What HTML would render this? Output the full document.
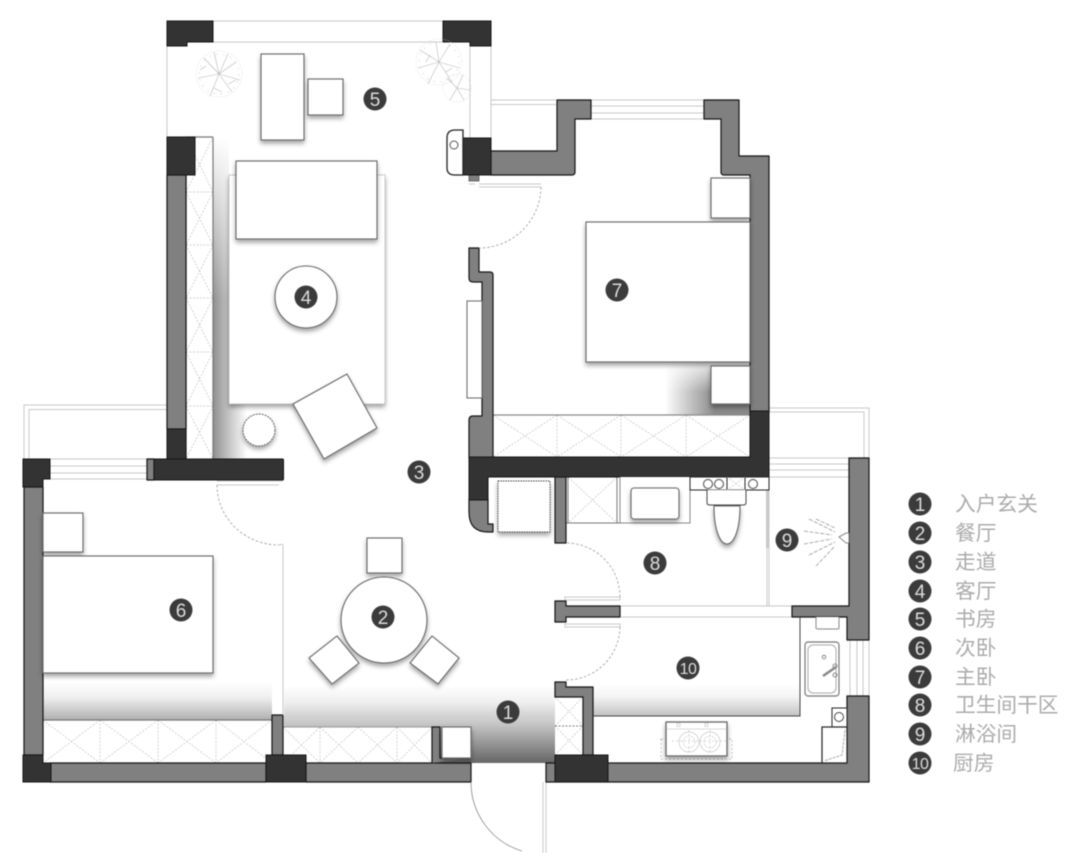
<!DOCTYPE html>
<html><head><meta charset="utf-8"><style>
html,body{margin:0;padding:0;background:#fff}
svg{display:block;filter:blur(.45px)}
.w{fill:#808080;stroke:#151515;stroke-width:1.2;stroke-linejoin:round}
.d{fill:#333;stroke:#151515;stroke-width:1}
.l{fill:none;stroke:#c8c8c8;stroke-width:1}
.h{fill:none;stroke:#c2c2c2;stroke-width:.7;stroke-dasharray:2 1.5}
.f{fill:#fff;stroke:#666;stroke-width:1.1;filter:url(#s)}
.b{fill:#fff;stroke:#555;stroke-width:1.1}
.a{fill:none;stroke:#999;stroke-width:.8;stroke-dasharray:2.5 2}
.t{fill:none;stroke:#d2d2d2;stroke-width:.6}
.c{fill:#3b3b3b}
.n{font:19px "Liberation Sans",sans-serif;fill:#dcdcdc;text-anchor:middle}
.k{font:20.700px "Liberation Sans","Noto Sans CJK SC",sans-serif;fill:#ababab}
</style></head><body>
<svg width="1080" height="853" viewBox="0 0 1080 853" xmlns="http://www.w3.org/2000/svg">
<defs>
<filter id="s" x="-20%" y="-20%" width="140%" height="145%"><feDropShadow dx="0" dy="3" stdDeviation="2.5" flood-color="#000" flood-opacity=".36"/></filter>
<linearGradient id="g1" gradientUnits="userSpaceOnUse" x1="0" y1="686" x2="0" y2="762"><stop offset="0" stop-color="#fff"/><stop offset=".2" stop-color="#f0f0f0"/><stop offset=".52" stop-color="#c2c2c2"/><stop offset="1" stop-color="#686868"/></linearGradient>
<linearGradient id="g2" gradientUnits="userSpaceOnUse" x1="0" y1="682" x2="0" y2="720"><stop offset="0" stop-color="#fff"/><stop offset=".4" stop-color="#f0f0f0"/><stop offset="1" stop-color="#b0b0b0"/></linearGradient>
<linearGradient id="g3" gradientUnits="userSpaceOnUse" x1="0" y1="684" x2="0" y2="716"><stop offset="0" stop-color="#fff"/><stop offset=".4" stop-color="#f4f4f4"/><stop offset="1" stop-color="#c2c2c2"/></linearGradient>
<linearGradient id="g4" gradientUnits="userSpaceOnUse" x1="213" y1="0" x2="247" y2="0"><stop offset="0" stop-color="#909090"/><stop offset="1" stop-color="#fff"/></linearGradient>
<linearGradient id="g6" gradientUnits="userSpaceOnUse" x1="665" y1="0" x2="715" y2="0"><stop offset="0" stop-color="#fff"/><stop offset="1" stop-color="#8a8a8a"/></linearGradient>
<linearGradient id="g7" gradientUnits="userSpaceOnUse" x1="0" y1="362" x2="0" y2="392"><stop offset="0" stop-color="#fff" stop-opacity=".85"/><stop offset="1" stop-color="#fff" stop-opacity="0"/></linearGradient>
<linearGradient id="g8" gradientUnits="userSpaceOnUse" x1="0" y1="137" x2="0" y2="300"><stop offset="0" stop-color="#fff"/><stop offset="1" stop-color="#fff" stop-opacity="0"/></linearGradient>
</defs>

<!-- gradient floors -->
<rect x="284" y="686" width="271" height="77" fill="url(#g1)"/>
<rect x="43" y="682" width="229" height="39" fill="url(#g2)"/>
<rect x="593" y="684" width="207" height="32" fill="url(#g3)"/>
<rect x="213" y="137" width="16" height="322" fill="url(#g4)"/>
<rect x="229" y="400" width="44" height="59" fill="url(#g4)"/>
<rect x="213" y="137" width="16" height="163" fill="url(#g8)"/>
<rect x="665" y="362" width="85" height="53" fill="url(#g6)"/>
<rect x="665" y="362" width="85" height="30" fill="url(#g7)"/>

<!-- outside lines / windows -->
<path class="l" d="M213 21H443M213 42H470M167 46V137M470 42V138M491 46V138"/>
<path class="l" d="M491 100H556M491 104.500H556M591 100H704M591 106H704M591 113H704M591 119H704"/>
<path class="l" d="M24 459V405H167M29 459V409.500H167M50 459H147M50 466H147M50 473H147M50 479H147"/>
<path class="l" d="M769 408H869V458M769 412H864V458M769 458H849M769 464H849M769 470H849M769 477H849"/>
<path class="l" d="M850 640V696M857 640V696M863 640V696M869 640V696"/>
<path class="l" d="M620 606H792M620 617H792M543 782V853M546 782V853" />
<path class="l" d="M767 490V606M769 490V606" stroke-width="1"/>
<rect x="766" y="490" width="3" height="58" fill="#c8c8c8"/>

<!-- hatch closets -->
<g>
<rect x="186" y="137" width="27" height="322" fill="#fff"/>
<path class="h" d="M186 192H213M186 245H213M186 298H213M186 352H213M186 406H213M186 137L213 192M213 137L186 192M186 192L213 245M213 192L186 245M186 245L213 298M213 245L186 298M186 298L213 352M213 298L186 352M186 352L213 406M213 352L186 406M186 406L213 459M213 406L186 459"/>
<path d="M213 137V459M186 137H213" stroke="#777" stroke-width="1.2" fill="none"/>
<path d="M186 175V459" stroke="#151515" stroke-width="1.2"/>
<rect x="493" y="415" width="257" height="42" fill="#fff"/>
<path class="h" d="M557 415V457M621 415V457M686 415V457M493 415L557 457M557 415L493 457M557 415L621 457M621 415L557 457M621 415L686 457M686 415L621 457M686 415L750 457M750 415L686 457"/>
<path d="M493 415H750" stroke="#8a8a8a" stroke-width="1.2"/>
<rect x="43" y="720" width="229" height="43" fill="#fff"/>
<path class="h" d="M100 720V763M158 720V763M216 720V763M43 720L100 763M100 720L43 763M100 720L158 763M158 720L100 763M158 720L216 763M216 720L158 763M216 720L272 763M272 720L216 763"/>
<path d="M43 720H272" stroke="#777" stroke-width="1.2"/>
<rect x="283" y="727" width="149" height="36" fill="#fff"/>
<path class="h" d="M320 727V763M397 727V763M283 763L320 727M283 727L320 763M320 727L358 763M358 727L320 763M358 727L397 763M397 727L358 763M397 727L432 763M432 727L397 763"/>
<path d="M283 727H432" stroke="#999" stroke-width="1"/>
<rect x="555" y="697" width="28" height="58" fill="#fff"/>
<path class="h" d="M555 726H583M555 697L583 726M583 697L555 726M555 726L583 755M583 726L555 755"/>
<path d="M555 726H583" stroke="#666" stroke-width=".7" stroke-dasharray="2 1.500"/>
<rect x="568" y="477" width="49" height="46" fill="#fff"/>
<path class="h" d="M568 477L617 523M617 477L568 523"/>
<path d="M568 477V523M617 477V523M620 477V523M566 523H620" stroke="#777" fill="none" stroke-width="1"/>
</g>

<!-- walls gray -->
<rect class="w" x="167" y="175" width="19" height="254"/>
<rect class="w" x="24" y="487" width="19" height="268"/>
<rect class="w" x="50" y="763" width="216" height="19"/>
<rect class="w" x="306" y="763" width="165" height="19"/>
<path class="w" d="M432 763V727H440V758H471"/>
<rect class="w" x="272" y="715" width="11" height="40"/>
<rect class="w" x="147" y="459" width="7" height="21"/>
<path class="w" d="M491 151H557V100H591V119H575V172Q575 175 572 175H491Z"/>
<path class="w" d="M704 100H739V156H769V412H750V175H724Q721 175 721 172V119H704Z"/>
<path class="w" d="M469 248H479V272H490Q493 272 493 275V458H469V420Q469 416 473 416H482V282H473Q469 282 469 278Z"/>
<path class="w" d="M469 499H488V524H493V532H488Q469 532 469 512Z"/>
<rect class="w" x="555" y="477" width="11" height="66"/>
<path class="w" d="M555 601H566V606H620V617H566V622H555Z"/>
<path class="w" d="M792 606H849V458H869V640H847V617H792Z"/>
<path class="w" d="M847 696H869V782H546V763H847Z"/>
<path class="w" d="M555 682H566V687H593V755H583V697H555Z"/>
<rect x="469" y="175" width="10" height="6" fill="#808080" stroke="#555" stroke-width=".8"/>

<!-- walls dark -->
<path class="d" d="M167 21H213V42H187V46H167Z"/>
<path class="d" d="M443 21H491V46H470V42H443Z"/>
<rect class="d" x="167" y="137" width="28" height="38"/>
<rect class="d" x="167" y="429" width="19" height="31"/>
<rect class="d" x="154" y="459" width="129.500" height="21" rx="1"/>
<rect class="d" x="463" y="138" width="28" height="37"/>
<path class="d" d="M23 459H50V479H43V487H23Z"/>
<path class="d" d="M23 755H43V763H51V782H23Z"/>
<rect class="d" x="266" y="755" width="40" height="27"/>
<rect class="d" x="555" y="755" width="53" height="27"/>
<path class="d" d="M750 411H769V477H488V500H469V457H750Z"/>
<path class="b" d="M463 130H455Q447 130 447 138V168Q447 175 455 175H463Z" style="stroke-width:1.300;stroke:#222"/>
<circle cx="454" cy="145" r="4" fill="#fff" stroke="#555"/>

<!-- doors -->
<path class="l" d="M479 184H541M479 187H541M469 184H475"/>
<path class="a" d="M541 187A62 62 0 0 1 479 248"/>
<path class="l" d="M217 481H283M217 485H279"/>
<path class="a" d="M217 485A62 60 0 0 0 279 545"/>
<path class="l" d="M283 545V715M279 544.500H283"/>
<path class="l" d="M565 597H620V600H565ZM565 624H620V627H565Z"/>
<path class="a" d="M620 597A54 54 0 0 0 566 543"/>
<path class="a" d="M620 627A54 54 0 0 1 566 680"/>
<path d="M471 782A72 72 0 0 0 522 851" fill="none" stroke="#888" stroke-width=".8"/>

<!-- trees -->
<g class="t">
<circle cx="219" cy="74" r="23" stroke-dasharray="1 1.500"/>
<circle cx="219" cy="74" r="20" stroke-dasharray="2 5"/>
<path d="M219 74L204 58M219 74L228 54M219 74L240 80M219 74L210 96M219 74L198 78M219 74L232 92M219 74L214 52M219 74L236 62M206 66L200 70M228 84L236 80M214 88L222 92" stroke="#b8b8b8"/>
<circle cx="439" cy="62" r="23" stroke-dasharray="1 1.500"/>
<circle cx="439" cy="62" r="20" stroke-dasharray="2 5"/>
<path d="M439 62L420 50M439 62L450 44M439 62L460 68M439 62L428 84M439 62L418 68M439 62L452 82M439 62L436 42M430 55L426 62M446 72L452 68" stroke="#b8b8b8"/>
<circle cx="457" cy="88" r="14" stroke-dasharray="1 1.500"/>
<path d="M457 88L447 78M457 88L463 75M457 88L470 90M457 88L450 100M457 88L464 100" stroke="#b8b8b8"/>
</g>

<!-- study -->
<rect class="f" x="261" y="54" width="43" height="86"/>
<rect class="f" x="308" y="79" width="35" height="36"/>

<!-- living -->
<rect x="229" y="175" width="156" height="229" fill="#fff" stroke="#aaa" stroke-width=".9" stroke-dasharray="1.500 1" filter="url(#s)"/>
<rect class="f" x="236" y="161" width="141" height="78"/>
<circle class="f" cx="306" cy="297" r="31"/>
<circle cx="259" cy="430" r="16" fill="#fff" stroke="#555" stroke-width=".9" stroke-dasharray="2 1" filter="url(#s)"/>
<path class="f" d="M347 374L377 428L324 459L293 404Z"/>

<!-- bedroom 7 -->
<rect class="f" x="711" y="178" width="39" height="40"/>
<rect class="f" x="586" y="222" width="164" height="140"/>
<rect class="f" x="711" y="366" width="39" height="38"/>
<rect x="467" y="301" width="15" height="97" fill="#fff" stroke="#666"/>

<!-- bedroom 6 -->
<rect class="f" x="43" y="513" width="40" height="39"/>
<rect class="f" x="43" y="556" width="170" height="117"/>

<!-- dining -->
<rect class="f" x="367" y="538" width="35" height="35"/>
<circle class="f" cx="384" cy="620" r="43"/>
<path class="f" d="M337 636L359 663L332 684L309 658Z"/>
<path class="f" d="M432 636L459 658L438 684L410 663Z"/>
<rect class="f" x="442" y="727" width="29" height="31"/>

<!-- bath -->
<rect x="498" y="481" width="52" height="51" fill="#fff" stroke="#444" stroke-width=".9" stroke-dasharray="1.500 1" filter="url(#s)"/>
<path d="M620 477V523H690V477" fill="#fff" stroke="#888"/>
<rect class="f" x="631" y="488" width="48" height="31" rx="3"/>
<rect x="690" y="477" width="79" height="13" fill="#fff" stroke="#222"/>
<path d="M727 477V490M745 477V490" stroke="#222"/>
<path class="h" d="M727 477L745 490M745 477L727 490"/>
<circle cx="708" cy="484" r="4.500" fill="#fff" stroke="#444"/>
<circle cx="719" cy="484" r="4.500" fill="#fff" stroke="#444"/>
<circle cx="753" cy="484" r="4.500" fill="#fff" stroke="#444"/>
<path class="f" d="M714 506C714 530 720 544 727 544C734 544 740 530 740 506Z"/>
<path d="M707 490V503Q707 505 710 505H743Q746 505 746 503V490" fill="#fff" stroke="#444"/>
<path d="M816 519L835 528M809 519L835 532M804 531L832 535M804 544L832 539M809 555L835 542M816 566L835 546" stroke="#999" fill="none" stroke-width=".8" stroke-dasharray="4 1.500"/>
<path d="M839 537L846 533H849V543H846Z" fill="#fff" stroke="#666" stroke-width=".8"/>

<!-- kitchen -->
<path d="M800 617V716H593" fill="none" stroke="#444" stroke-width="1"/>
<path d="M816 617V628Q816 629 818 629H838Q839 629 839 628V617" fill="#fff" stroke="#888"/>
<rect x="805" y="642" width="34" height="54" rx="3" fill="#fff" stroke="#777" stroke-width="1.200"/>
<rect x="808" y="645" width="28" height="48" rx="5" fill="none" stroke="#aaa"/>
<circle cx="824" cy="657" r="1.800" fill="none" stroke="#888"/>
<path d="M823 676L836 667" stroke="#888" stroke-width="2.500"/>
<circle cx="835" cy="666" r="2" fill="none" stroke="#888"/>
<circle cx="835" cy="675" r="2" fill="none" stroke="#888"/>
<rect x="832" y="708" width="15" height="19" fill="#fff" stroke="#222"/>
<circle cx="839" cy="717" r="4.500" fill="#fff" stroke="#444"/>
<rect x="822" y="727" width="25" height="36" fill="#fff" stroke="#222" stroke-width="1.200"/>
<path d="M845 730L842 755L824 761" fill="none" stroke="#999" stroke-width=".8" stroke-dasharray="3 1"/>
<rect x="661" y="739" width="71" height="20" fill="none" stroke="#aaa" stroke-width=".7" stroke-dasharray="2 2"/>
<rect x="666" y="722" width="61" height="34" fill="#fff" stroke="#666" stroke-width="1.300" filter="url(#s)"/>
<path d="M667 729H726" stroke="#ccc" stroke-width=".7"/>
<g fill="none" stroke="#c8c8c8" stroke-width=".7">
<circle cx="689" cy="742" r="10"/><circle cx="689" cy="742" r="6" stroke-dasharray="2 1"/>
<circle cx="710" cy="742" r="10"/><circle cx="710" cy="742" r="6" stroke-dasharray="2 1"/>
<path d="M672 741H727M689 730V753M710 730V753" stroke-dasharray="2 2"/>
<rect x="677" y="723.500" width="3" height="3"/><rect x="705" y="723.500" width="3" height="3"/>
</g>

<!-- plan labels -->
<g>
<circle class="c" cx="508" cy="712" r="11.500"/><text class="n" x="508" y="719">1</text>
<circle class="c" cx="383" cy="617" r="11.500"/><text class="n" x="383" y="624">2</text>
<circle class="c" cx="419" cy="472" r="11.500"/><text class="n" x="419" y="479">3</text>
<circle class="c" cx="306" cy="297" r="11.500"/><text class="n" x="306" y="304">4</text>
<circle class="c" cx="375" cy="99" r="11.500"/><text class="n" x="375" y="106">5</text>
<circle class="c" cx="181" cy="610" r="11.500"/><text class="n" x="181" y="617">6</text>
<circle class="c" cx="617" cy="290" r="11.500"/><text class="n" x="617" y="297">7</text>
<circle class="c" cx="655" cy="563" r="11.500"/><text class="n" x="655" y="570">8</text>
<circle class="c" cx="787" cy="540" r="11.500"/><text class="n" x="787" y="547">9</text>
<circle class="c" cx="688" cy="668" r="11.500"/><text class="n" x="688" y="674" style="font-size:16px;letter-spacing:-.5px">10</text>
</g>

<!-- legend -->
<g>
<circle class="c" cx="920" cy="504" r="11.500"/><text class="n" x="920" y="511">1</text><text class="k" x="955" y="511">入户玄关</text>
<circle class="c" cx="920" cy="533" r="11.500"/><text class="n" x="920" y="540">2</text><text class="k" x="955" y="540">餐厅</text>
<circle class="c" cx="920" cy="562" r="11.500"/><text class="n" x="920" y="569">3</text><text class="k" x="955" y="569">走道</text>
<circle class="c" cx="920" cy="591" r="11.500"/><text class="n" x="920" y="598">4</text><text class="k" x="955" y="598">客厅</text>
<circle class="c" cx="920" cy="619" r="11.500"/><text class="n" x="920" y="626">5</text><text class="k" x="955" y="626">书房</text>
<circle class="c" cx="920" cy="648" r="11.500"/><text class="n" x="920" y="655">6</text><text class="k" x="955" y="655">次卧</text>
<circle class="c" cx="920" cy="677" r="11.500"/><text class="n" x="920" y="684">7</text><text class="k" x="955" y="684">主卧</text>
<circle class="c" cx="920" cy="705" r="11.500"/><text class="n" x="920" y="712">8</text><text class="k" x="955" y="712">卫生间干区</text>
<circle class="c" cx="920" cy="734" r="11.500"/><text class="n" x="920" y="741">9</text><text class="k" x="955" y="741">淋浴间</text>
<circle class="c" cx="920" cy="763" r="11.500"/><text class="n" x="920" y="769" style="font-size:16px;letter-spacing:-.5px">10</text><text class="k" x="953" y="770">厨房</text>
</g>
</svg>
</body></html>
